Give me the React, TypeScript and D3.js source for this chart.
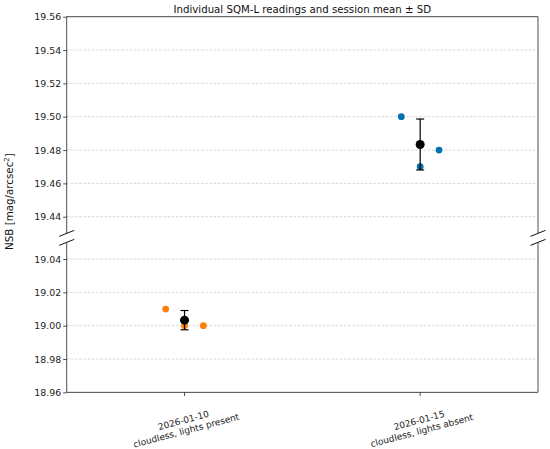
import { useEffect, useRef } from "react";
import * as d3 from "d3";

// sessions and their individual readings (mag/arcsec^2)
const sessionDates = ["2026-01-10", "2026-01-15"];
const sessionNotes = ["cloudless, lights present", "cloudless, lights absent"];
const readingsJan10 = [19.01, 19.0, 19.0];
const readingsJan15 = [19.5, 19.47, 19.48];
const jitterOffsets = [-0.08, 0, 0.08];
const sessionColors = ["#ff7f0e", "#0173b2"];

// broken y axis: two ranges
const upperRange = [19.43, 19.56];
const lowerRange = [18.96, 19.05];
const upperTicks = [19.44, 19.46, 19.48, 19.5, 19.52, 19.54, 19.56];
const lowerTicks = [18.96, 18.98, 19.0, 19.02, 19.04];

const W = 550;
const H = 449;
const FONT = "DejaVu Sans, sans-serif";

export default function App() {
  const ref = useRef<SVGSVGElement | null>(null);

  useEffect(() => {
    document.body.style.margin = "0";
    if (!ref.current) return;
    const svg = d3.select(ref.current);
    svg.selectAll("*").remove();

    const left = 66.7;
    const right = 538;
    const upperTop = 16.7;
    const pxPerUnit = 1666.7;
    const upperBottom = upperTop + (upperRange[1] - upperRange[0]) * pxPerUnit;
    const lowerTop = upperBottom + 9;
    const lowerBottom = lowerTop + (lowerRange[1] - lowerRange[0]) * pxPerUnit;

    const x = d3.scaleLinear().domain([-0.5, 1.5]).range([left, right]);
    const yUp = d3.scaleLinear().domain(upperRange).range([upperBottom, upperTop]);
    const yLo = d3.scaleLinear().domain(lowerRange).range([lowerBottom, lowerTop]);

    const allReadings = [readingsJan10, readingsJan15];

    // ---------- grid + axes for each panel ----------
    const panels = [
      { y: yUp, ticks: upperTicks, top: upperTop, bottom: upperBottom, which: "upper" },
      { y: yLo, ticks: lowerTicks, top: lowerTop, bottom: lowerBottom, which: "lower" },
    ];

    for (const p of panels) {
      const g = svg.append("g");
      g.append("g")
        .selectAll("line")
        .data(p.ticks)
        .join("line")
        .attr("x1", left)
        .attr("x2", right)
        .attr("y1", (d) => p.y(d))
        .attr("y2", (d) => p.y(d))
        .attr("stroke", "#b0b0b0")
        .attr("stroke-opacity", 0.7)
        .attr("stroke-width", 0.7)
        .attr("stroke-dasharray", "2.6,1.6");

      const axis = g
        .append("g")
        .attr("transform", `translate(${left},0)`)
        .call(
          d3
            .axisLeft(p.y)
            .tickValues(p.ticks)
            .tickSize(3.5)
            .tickPadding(2)
            .tickFormat(d3.format(".2f")),
        );
      axis.select(".domain").remove();
      axis.selectAll("line").attr("stroke", "#222").attr("stroke-width", 0.8);
      axis
        .selectAll("text")
        .attr("font-family", FONT)
        .attr("font-size", 9.4)
        .attr("fill", "#222");

      // spines
      const spine = g.append("g").attr("stroke", "#222").attr("stroke-width", 0.8);
      spine.append("line").attr("x1", left).attr("x2", left).attr("y1", p.top).attr("y2", p.bottom);
      spine.append("line").attr("x1", right).attr("x2", right).attr("y1", p.top).attr("y2", p.bottom);
      const edge = p.which === "upper" ? p.top : p.bottom;
      spine.append("line").attr("x1", left).attr("x2", right).attr("y1", edge).attr("y2", edge);

      // break marks
      const breakY = p.which === "upper" ? p.bottom : p.top;
      for (const bx of [left, right]) {
        spine
          .append("line")
          .attr("x1", bx - 7.5)
          .attr("y1", breakY + 3)
          .attr("x2", bx + 7.5)
          .attr("y2", breakY - 3)
          .attr("stroke", "#111")
          .attr("stroke-width", 1);
      }
    }

    // x ticks
    const xt = svg.append("g");
    xt.selectAll("line")
      .data(sessionDates)
      .join("line")
      .attr("x1", (_, i) => x(i))
      .attr("x2", (_, i) => x(i))
      .attr("y1", lowerBottom)
      .attr("y2", lowerBottom + 3.5)
      .attr("stroke", "#222")
      .attr("stroke-width", 0.8);

    const lbl = xt
      .selectAll("text")
      .data(sessionDates)
      .join("text")
      .attr("transform", (_, i) => `translate(${x(i)},${lowerBottom + 32}) rotate(-15)`)
      .attr("text-anchor", "middle")
      .attr("font-family", FONT)
      .attr("font-size", 9)
      .attr("fill", "#222");
    lbl.append("tspan").attr("x", 0).attr("y", -1).text((d) => d);
    lbl.append("tspan").attr("x", 0).attr("y", 9.5).text((_, i) => sessionNotes[i]);

    // ---------- points + mean ± SD ----------
    allReadings.forEach((vals, i) => {
      const mean = d3.mean(vals)!;
      const sd = d3.deviation(vals)!;
      const y = mean > lowerRange[1] ? yUp : yLo;
      const g = svg.append("g");
      g.selectAll("circle")
        .data(vals)
        .join("circle")
        .attr("cx", (_, j) => x(i + jitterOffsets[j]))
        .attr("cy", (d) => y(d))
        .attr("r", 3.4)
        .attr("fill", sessionColors[i]);

      const cx = x(i);
      const eb = g.append("g").attr("stroke", "#000").attr("stroke-width", 1.2);
      eb.append("line").attr("x1", cx).attr("x2", cx).attr("y1", y(mean - sd)).attr("y2", y(mean + sd));
      for (const v of [mean - sd, mean + sd]) {
        eb.append("line").attr("x1", cx - 4).attr("x2", cx + 4).attr("y1", y(v)).attr("y2", y(v));
      }
      g.append("circle").attr("cx", cx).attr("cy", y(mean)).attr("r", 4.5).attr("fill", "#000");
    });

    // ---------- title + y label ----------
    svg
      .append("text")
      .attr("x", (left + right) / 2)
      .attr("y", 12.5)
      .attr("text-anchor", "middle")
      .attr("font-family", FONT)
      .attr("font-size", 10.2)
      .attr("fill", "#111")
      .text("Individual SQM-L readings and session mean ± SD");

    const yl = svg
      .append("text")
      .attr("transform", `translate(13,${(upperTop + lowerBottom) / 2 - 3}) rotate(-90)`)
      .attr("text-anchor", "middle")
      .attr("font-family", FONT)
      .attr("font-size", 10.3)
      .attr("fill", "#111");
    yl.append("tspan").text("NSB [mag/arcsec");
    yl.append("tspan").attr("font-size", 7).attr("dy", -4).text("2");
    yl.append("tspan").attr("dy", 4).text("]");
  }, []);

  return <svg ref={ref} width={W} height={H} style={{ display: "block", background: "#fff" }} />;
}
